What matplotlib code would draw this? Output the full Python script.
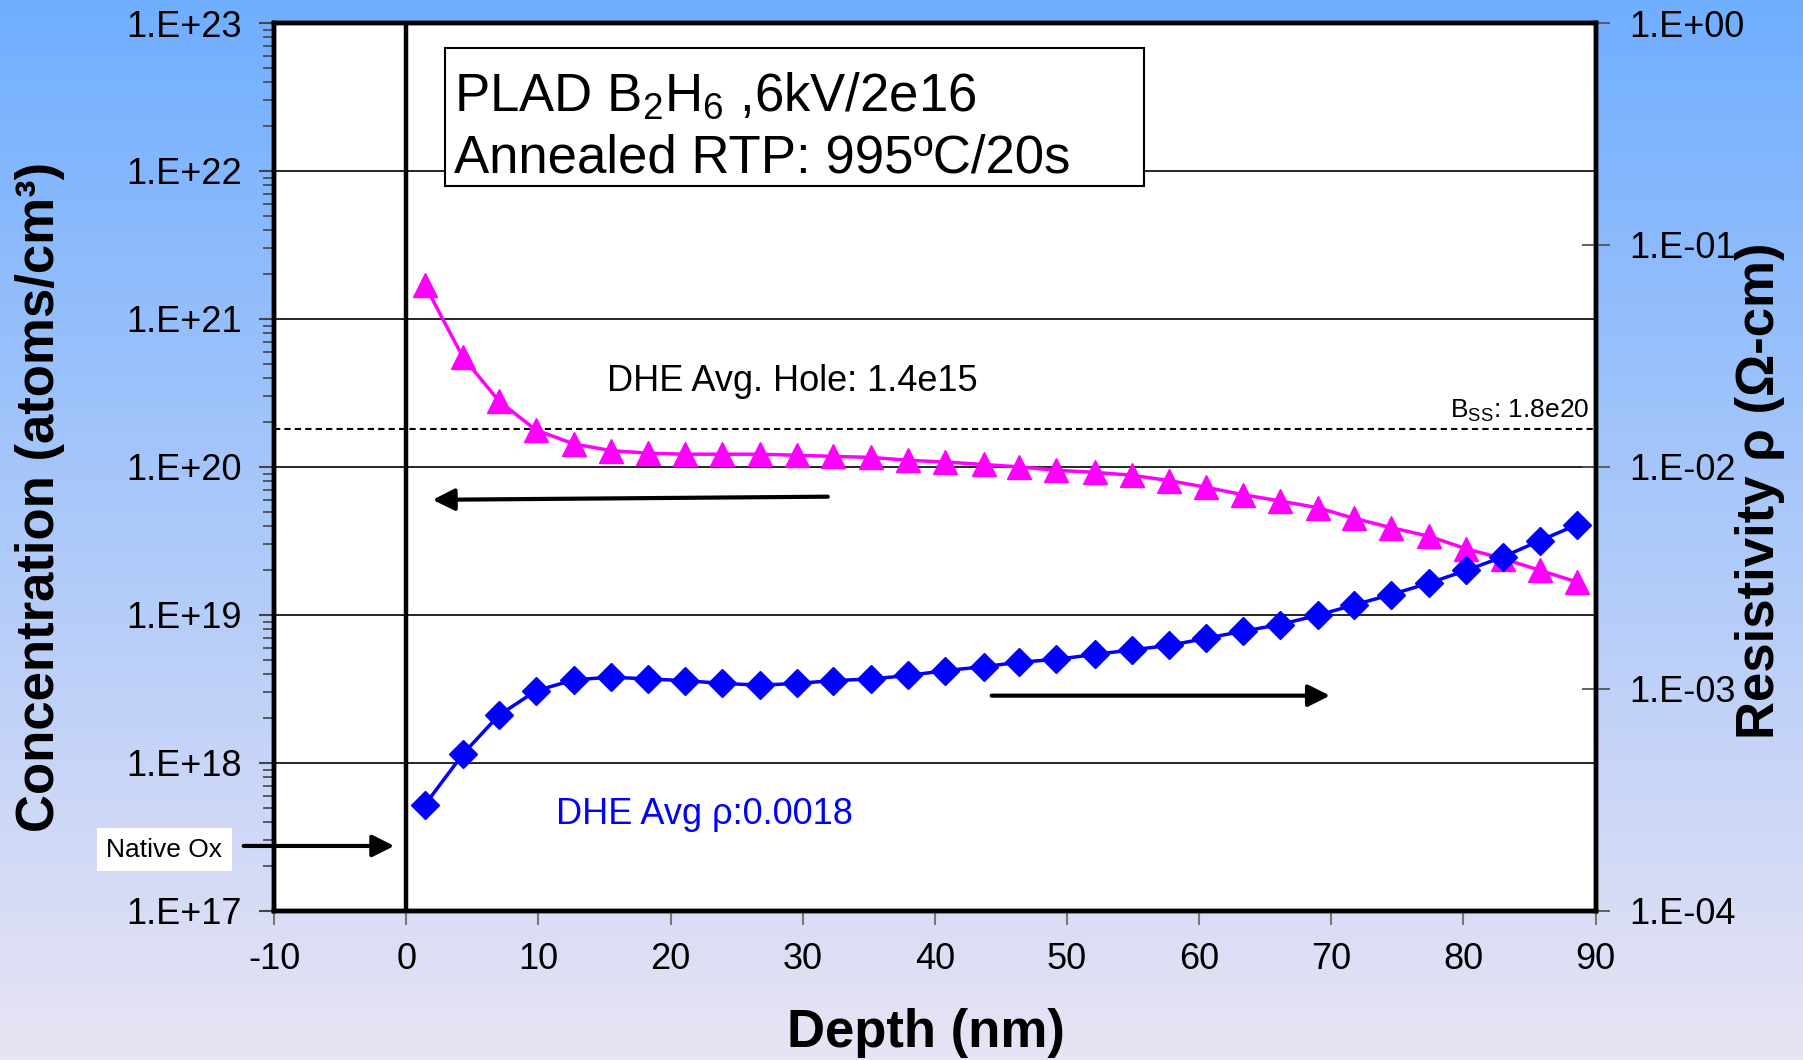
import numpy as np
import matplotlib.pyplot as plt
from matplotlib.ticker import LogLocator, FuncFormatter, NullFormatter, NullLocator
from matplotlib.patches import Rectangle

plt.rcParams['font.family'] = ['Liberation Sans', 'DejaVu Sans']
plt.rcParams['mathtext.fontset'] = 'custom'
plt.rcParams['mathtext.rm'] = 'Liberation Sans'
plt.rcParams['mathtext.bf'] = 'Liberation Sans:bold'
plt.rcParams['axes.unicode_minus'] = False

# Profundidad (nm) de cada punto
depth = [1.4, 4.3, 7.0, 9.8, 12.7, 15.5, 18.3, 21.1, 23.9, 26.8, 29.6,
         32.3, 35.2, 38.0, 40.8, 43.7, 46.4, 49.2, 52.1, 54.9, 57.7, 60.5,
         63.3, 66.1, 69.0, 71.7, 74.5, 77.4, 80.2, 83.0, 85.8, 88.6]

# Concentracion (atoms/cm3) - eje izquierdo
concentration = [1.7e21, 5.5e20, 2.8e20, 1.78e20, 1.43e20, 1.29e20, 1.24e20,
                 1.22e20, 1.22e20, 1.22e20, 1.20e20, 1.18e20, 1.16e20, 1.11e20,
                 1.08e20, 1.04e20, 1.0e20, 9.5e19, 9.2e19, 8.8e19, 8.1e19,
                 7.3e19, 6.5e19, 5.9e19, 5.3e19, 4.5e19, 3.9e19, 3.4e19,
                 2.8e19, 2.4e19, 2.0e19, 1.67e19]

# Resistividad (ohm-cm) - eje derecho
resistivity = [3.0e-4, 5.1e-4, 7.6e-4, 9.8e-4, 1.10e-3, 1.13e-3, 1.11e-3,
               1.09e-3, 1.06e-3, 1.04e-3, 1.06e-3, 1.09e-3, 1.11e-3, 1.15e-3,
               1.21e-3, 1.26e-3, 1.32e-3, 1.36e-3, 1.43e-3, 1.50e-3, 1.57e-3,
               1.69e-3, 1.82e-3, 1.95e-3, 2.15e-3, 2.39e-3, 2.66e-3, 3.0e-3,
               3.42e-3, 3.94e-3, 4.66e-3, 5.5e-3]

b_ss = 1.8e20
xticks = list(range(-10, 100, 10))

fig = plt.figure(figsize=(18.03, 10.60), dpi=100)

# fondo degradado
bg = fig.add_axes([0, 0, 1, 1], zorder=-10)
top = np.array([112, 174, 255]) / 255
bottom = np.array([233, 228, 244]) / 255
t = np.linspace(0, 1, 256)[:, None]
grad = top[None, :] * (1 - t) + bottom[None, :] * t
bg.imshow(grad[:, None, :], aspect='auto', extent=[0, 1, 0, 1])
bg.axis('off')

ax = fig.add_axes([0.152, 0.1406, 0.733, 0.8377])
ax.set_facecolor('white')
ax.set_xlim(-10, 90)
ax.set_yscale('log')
ax.set_ylim(1e17, 1e23)
ax.set_xticks(xticks)
ax.yaxis.set_major_locator(LogLocator(base=10, numticks=10))
ax.yaxis.set_minor_locator(LogLocator(base=10, subs=np.arange(2, 10), numticks=10))
ax.yaxis.set_minor_formatter(NullFormatter())
ax.yaxis.set_major_formatter(FuncFormatter(lambda v, p: '1.E%+03d' % round(np.log10(v))))
ax.yaxis.grid(True, which='major', color='black', lw=1.2)
ax.set_axisbelow(True)

ax.tick_params(axis='y', which='major', direction='out', length=11, width=1.5,
               labelsize=26, pad=12, color='#444444')
ax.tick_params(axis='y', which='minor', direction='out', length=8, width=1.2,
               color='#444444')
ax.tick_params(axis='x', direction='out', length=10, width=1.5, labelsize=26,
               pad=12, color='#777777')
for s in ax.spines.values():
    s.set_linewidth(3.2)

ax.axvline(0, color='black', lw=3.2)
ax.axhline(b_ss, color='black', lw=1.5, ls=(0, (3, 2)))

ax.plot(depth, concentration, color='#FF00FF', lw=2.5, marker='^', ms=17,
        zorder=5)

ax2 = ax.twinx()
ax2.set_yscale('log')
ax2.set_ylim(1e-4, 1)
ax2.yaxis.set_major_locator(LogLocator(base=10, numticks=10))
ax2.yaxis.set_minor_locator(NullLocator())
ax2.yaxis.set_major_formatter(FuncFormatter(lambda v, p: '1.E%+03d' % round(np.log10(v))))
ax2.tick_params(axis='y', direction='inout', length=20, width=1.3, labelsize=26,
                pad=14, color='#555555')
for s in ax2.spines.values():
    s.set_linewidth(3.2)
ax2.plot(depth, resistivity, color='#0000FF', lw=2.5, marker='D', ms=14,
         zorder=5)

# etiquetas de ejes
ax.set_xlabel('Depth (nm)', fontsize=38, fontweight='bold', va='center')
ax.xaxis.set_label_coords(0.493, -0.137)
ax.set_ylabel('Concentration (atoms/cm³)', fontsize=38, fontweight='bold',
              va='center')
ax.yaxis.set_label_coords(-0.177, 0.466)
ax2.set_ylabel('Resistivity ρ (Ω-cm)', fontsize=38, fontweight='bold',
               rotation=90, va='center')
ax2.yaxis.set_label_coords(1.124, 0.473)

# cuadro de titulo
ax.add_patch(Rectangle((0.129, 0.816), 0.529, 0.156, transform=ax.transAxes,
                       facecolor='white', edgecolor='black', lw=1.5, zorder=6))
ax.text(0.136, 0.901, r'PLAD B$_\mathregular{2}$H$_\mathregular{6}$ ,6kV/2e16',
        transform=ax.transAxes, fontsize=38, va='baseline', zorder=7)
ax.text(0.136, 0.832, 'Annealed RTP: 995ºC/20s', transform=ax.transAxes,
        fontsize=38, va='baseline', zorder=7)

ax.text(15.2, 3.8e20, 'DHE Avg. Hole: 1.4e15', fontsize=26, va='center')
ax.text(11.3, 4.5e17, 'DHE Avg ρ:0.0018', fontsize=26, va='center', color='#0000FF')
ax.text(89.5, 1.95e20, r'B$_\mathregular{SS}$: 1.8e20', fontsize=19, ha='right',
        va='bottom')

arrow = dict(arrowstyle='-|>,head_length=0.6,head_width=0.3', color='black',
             lw=3, shrinkA=0, shrinkB=0, mutation_scale=22)
ax.annotate('', xy=(2.0, 6.0e19), xytext=(31.9, 6.3e19), arrowprops=arrow)
ax.annotate('', xy=(69.9, 2.85e18), xytext=(44.3, 2.85e18), arrowprops=arrow)
ax.annotate('', xy=(-0.9, 2.75e17), xytext=(-12.3, 2.75e17), arrowprops=arrow,
            annotation_clip=False)
ax.text(-18.3, 2.6e17, 'Native Ox', fontsize=19, ha='center', va='center',
        clip_on=False, bbox=dict(facecolor='white', edgecolor='none', pad=7))

fig.savefig('out.png', dpi=100)
